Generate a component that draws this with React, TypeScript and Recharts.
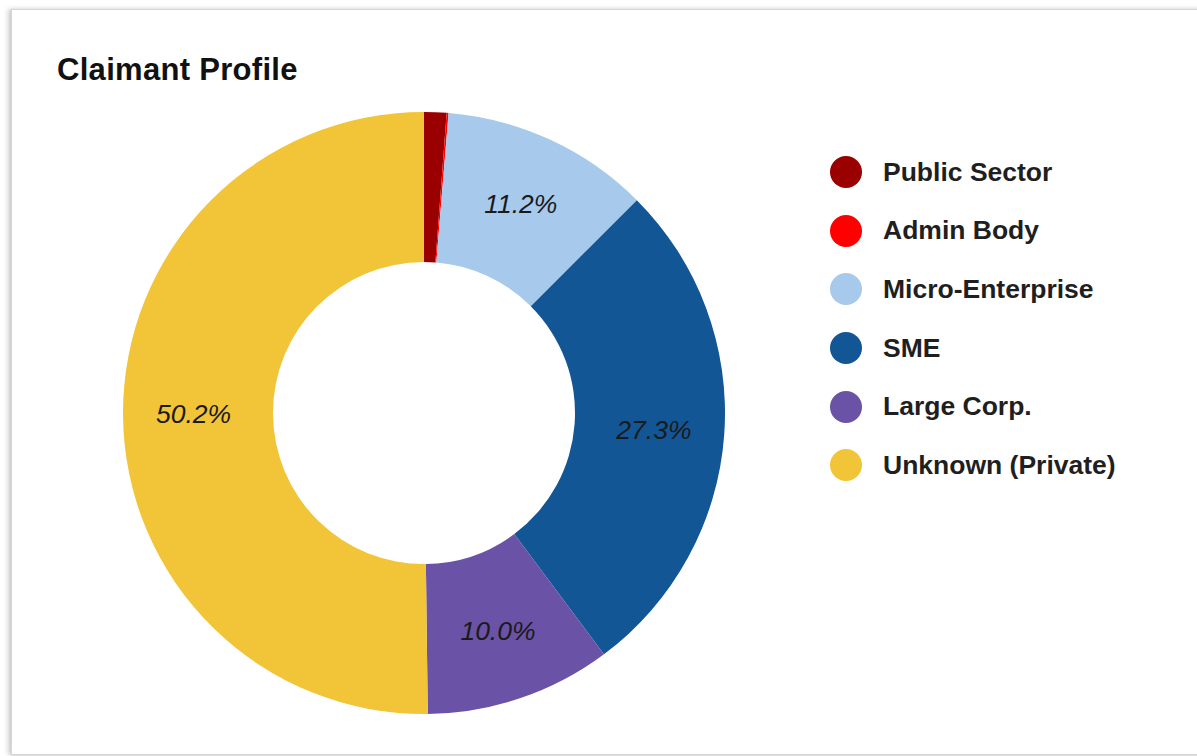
import React from "react";
import { PieChart, Pie, Cell } from "recharts";

const categories = ["Public Sector", "Admin Body", "Micro-Enterprise", "SME", "Large Corp.", "Unknown (Private)"];
const shares = [1.2, 0.1, 11.2, 27.3, 10.0, 50.2];
const colors = ["#9a0000", "#ff0000", "#a7c9eb", "#125696", "#6a52a7", "#f2c438"];

const data = categories.map((name, i) => ({ name, value: shares[i] }));

const RAD = Math.PI / 180;
const FONT = "Liberation Sans, Arial, Helvetica, sans-serif";

const renderLabel = (props: any) => {
  const { cx, cy, midAngle, innerRadius, outerRadius, value } = props;
  if (value < 5) return null;
  const r = innerRadius + (outerRadius - innerRadius) * 0.53;
  const x = cx + r * Math.cos(-midAngle * RAD);
  const y = cy + r * Math.sin(-midAngle * RAD);
  return (
    <text
      x={x}
      y={y}
      textAnchor="middle"
      dominantBaseline="central"
      fill="#1a1a1a"
      fontSize={26.5}
      fontStyle="italic"
      fontFamily={FONT}
    >
      {value.toFixed(1)}%
    </text>
  );
};

export default function App() {
  return (
    <div
      style={{
        position: "absolute",
        left: 0,
        top: 0,
        width: 1197,
        height: 756,
        background: "#ffffff",
        overflow: "hidden",
      }}
    >
      <div
        style={{
          position: "absolute",
          left: 11,
          top: 9,
          width: 1200,
          height: 744,
          border: "1px solid #d6d6d6",
          boxShadow: "-3px 0 5px rgba(0,0,0,0.18), 0 1px 3px rgba(0,0,0,0.1)",
          background: "#fff",
        }}
      />
      <div
        style={{
          position: "absolute",
          left: 57,
          top: 52,
          fontFamily: FONT,
          fontWeight: 700,
          fontSize: 31,
          letterSpacing: 0.3,
          color: "#111",
          whiteSpace: "nowrap",
          lineHeight: "36px",
        }}
      >
        Claimant Profile
      </div>
      <div style={{ position: "absolute", left: 0, top: 0 }}>
        <PieChart width={1197} height={756} margin={{ top: 0, right: 0, bottom: 0, left: 0 }}>
          <Pie
            data={data}
            dataKey="value"
            nameKey="name"
            cx={424}
            cy={413}
            innerRadius={151}
            outerRadius={301}
            startAngle={90}
            endAngle={-270}
            stroke="none"
            label={renderLabel}
            labelLine={false}
            isAnimationActive={false}
          >
            {data.map((d, i) => (
              <Cell key={d.name} fill={colors[i]} />
            ))}
          </Pie>
        </PieChart>
      </div>
      <div style={{ position: "absolute", left: 830, top: 143, fontFamily: FONT }}>
        {categories.map((c, i) => (
          <div key={c} style={{ display: "flex", alignItems: "center", height: 58.6 }}>
            <div
              style={{
                width: 32,
                height: 32,
                borderRadius: "50%",
                background: colors[i],
                marginRight: 21,
                flexShrink: 0,
              }}
            />
            <span style={{ fontSize: 26.5, fontWeight: 700, color: "#1f1f1f", whiteSpace: "nowrap" }}>{c}</span>
          </div>
        ))}
      </div>
    </div>
  );
}
